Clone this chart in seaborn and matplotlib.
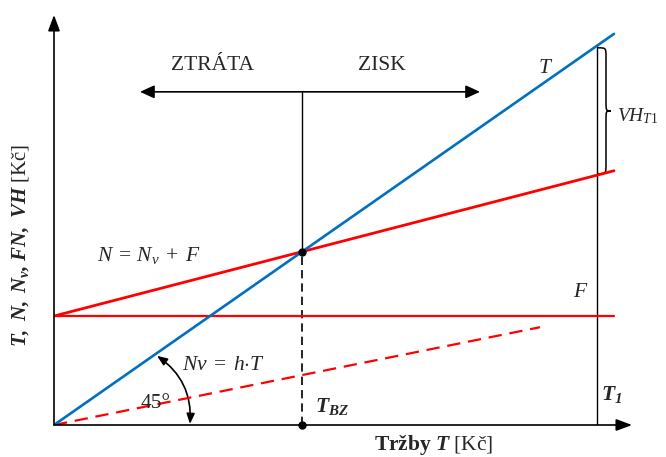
import matplotlib
matplotlib.use("Agg")
import matplotlib.pyplot as plt
import seaborn as sns
from matplotlib.path import Path
from matplotlib.patches import PathPatch, FancyArrowPatch

# Break-even chart (sales and costs in Kč, schematic units)
sales = [0, 560]
revenue = [0, 560]
fixed_cost = [156, 156]
total_cost = [156, 364]
variable_sales = [0, 486]
variable_cost = [0, 140]
t1_sales = 543

X_MAX = 578
Y_MAX = 587

BLUE = "#0070C0"
RED = "#FF0000"

sns.set_style("white")
plt.rcParams["font.family"] = ["Liberation Serif", "DejaVu Serif"]
plt.rcParams.update({
    "mathtext.fontset": "custom",
    "mathtext.rm": "Liberation Serif",
    "mathtext.it": "Liberation Serif:italic",
    "mathtext.bf": "Liberation Serif:bold",
    "mathtext.bfit": "Liberation Serif:italic:bold",
})

fig = plt.figure(figsize=(6.66, 4.57), dpi=100)
ax = fig.add_axes([54 / 666, 32 / 457, 578 / 666, 410 / 457])
ax.set_xlim(0, X_MAX)
ax.set_ylim(0, Y_MAX)
ax.axis("off")


def line(x, y, **kw):
    sns.lineplot(x=x, y=y, ax=ax, estimator=None, sort=False, legend=False, **kw)


# break-even point: revenue line meets total cost line
rev_slope = (revenue[1] - revenue[0]) / (sales[1] - sales[0])
cost_slope = (total_cost[1] - total_cost[0]) / (sales[1] - sales[0])
t_bz = (total_cost[0] - revenue[0]) / (rev_slope - cost_slope)
rev_bz = revenue[0] + rev_slope * t_bz

# value of revenue and total cost at T1
rev_t1 = revenue[0] + rev_slope * t1_sales
cost_t1 = total_cost[0] + cost_slope * t1_sales

arrow_y = 477
arrow_x = (86, 426)

# vertical guide lines
line([t_bz, t_bz], [rev_bz, arrow_y], color="black", lw=1.0)
line([t_bz, t_bz], [0, rev_bz], color="black", lw=1.2, linestyle=(0, (5, 3)))
line([t1_sales, t1_sales], [0, rev_t1], color="black", lw=1.0)

# cost and revenue lines
line(sales, fixed_cost, color=RED, lw=1.6)
line(variable_sales, variable_cost, color=RED, lw=1.6, linestyle=(0, (6, 3.5)))
line(sales, total_cost, color=RED, lw=2.0)
line(sales, revenue, color=BLUE, lw=1.9)

# break-even markers
ax.plot([t_bz, t_bz], [rev_bz, 0], "o", color="black", ms=5, clip_on=False, zorder=5)

# axes with arrowheads
axis_style = "-|>,head_length=0.8,head_width=0.3"
ax.annotate("", xy=(0, Y_MAX), xytext=(0, 0), annotation_clip=False,
            arrowprops=dict(arrowstyle=axis_style, color="black", lw=1.2,
                            shrinkA=0, shrinkB=0, mutation_scale=12))
ax.annotate("", xy=(X_MAX, 0), xytext=(0, 0), annotation_clip=False,
            arrowprops=dict(arrowstyle=axis_style, color="black", lw=1.2,
                            shrinkA=0, shrinkB=0, mutation_scale=12))

# loss / profit arrow
ax.annotate("", xy=(arrow_x[1], arrow_y), xytext=(arrow_x[0], arrow_y),
            arrowprops=dict(arrowstyle="<|-|>,head_length=0.72,head_width=0.33",
                            color="black", lw=1.2, shrinkA=0, shrinkB=0,
                            mutation_scale=12))

# 45° angle arc
arc = FancyArrowPatch((103, 99), (136, 1.5), connectionstyle="arc3,rad=-0.28",
                      arrowstyle="<|-|>,head_length=0.5,head_width=0.2",
                      mutation_scale=12, color="black", lw=1.2,
                      shrinkA=0, shrinkB=0)
ax.add_patch(arc)

# curly brace between revenue and total cost at T1
x0 = t1_sales + 1
xb = t1_sales + 9
xt = t1_sales + 14
y0, y1 = rev_t1 - 3, cost_t1 + 2
ym = (y0 + y1) / 2
q = 14
verts = [
    (x0, y0), (xb, y0), (xb, y0), (xb, y0 - q),
    (xb, ym + q),
    (xb, ym), (xb, ym), (xt, ym),
    (xb, ym), (xb, ym), (xb, ym - q),
    (xb, y1 + q),
    (xb, y1), (xb, y1), (x0, y1),
]
codes = [Path.MOVETO, Path.CURVE4, Path.CURVE4, Path.CURVE4,
         Path.LINETO,
         Path.CURVE4, Path.CURVE4, Path.CURVE4,
         Path.CURVE4, Path.CURVE4, Path.CURVE4,
         Path.LINETO,
         Path.CURVE4, Path.CURVE4, Path.CURVE4]
ax.add_patch(PathPatch(Path(verts, codes), facecolor="none", edgecolor="black",
                       lw=1.1, clip_on=False))

FS = 15.5
txt = dict(fontsize=FS, va="baseline", clip_on=False)
ax.text(158, 508, "ZTRÁTA", ha="center", **txt)
ax.text(328, 508, "ZISK", ha="center", **txt)
ax.text(484, 504, "$T$", ha="left", **txt)
ax.text(563, 435, "$VH_{T1}$", ha="left", fontsize=14, va="baseline", clip_on=False)
ax.text(43, 235, "$N\\:=\\:N_v\\;+\\;F$", ha="left", **txt)
ax.text(128, 79, "$Nv\\;=\\;h{\\cdot}T$", ha="left", **txt)
ax.text(87, 24, "45°", ha="left", **txt)
ax.text(519, 183, "$F$", ha="left", **txt)
ax.text(261, 18.6, "$\\mathbfit{T}_{\\mathbfit{BZ}}$", ha="left", **txt)
ax.text(547, 36, "$\\mathbfit{T}_{\\mathbfit{1}}$", ha="left", **txt)

fig.text(434 / 666, 7 / 457, "$\\mathbf{Tržby}\\ \\mathbfit{T}\\ \\mathrm{[Kč]}$",
         ha="center", va="baseline", fontsize=15.5)
fig.text(21 / 666, (457 - 246) / 457,
         "$\\mathbfit{T,}\\ \\mathbfit{N,}\\ \\mathbfit{N}_{\\mathbfit{v}}\\mathbfit{,}\\ "
         "\\mathbfit{FN,}\\ \\mathbfit{VH}\\ \\mathrm{[Kč]}$",
         ha="center", va="center", rotation=90, fontsize=15)

fig.savefig("out.png", dpi=100)
